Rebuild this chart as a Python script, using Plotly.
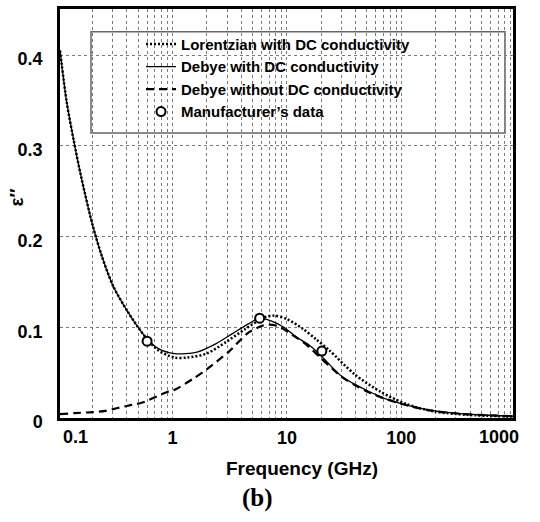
import plotly.graph_objects as go

# ---- data ----
# Lorentzian with DC conductivity (dotted)
lor_f = [0.104, 0.119, 0.137, 0.159, 0.20, 0.242, 0.304, 0.407, 0.527, 0.60, 0.752, 1.04, 1.35,
         1.99, 2.93, 4.32, 6.38, 7.75, 10.0, 13.9, 17.9, 23.3, 39.2, 65.6, 110, 197, 376, 947]
lor_e = [0.405, 0.348, 0.306, 0.266, 0.213, 0.178, 0.145, 0.117, 0.096, 0.087, 0.0745, 0.0666, 0.0666,
         0.071, 0.0836, 0.098, 0.111, 0.1128, 0.109, 0.098, 0.087, 0.075, 0.048, 0.029, 0.0155, 0.0071, 0.0035, 0.0015]

# Debye with DC conductivity (solid)
dwd_f = [0.104, 0.119, 0.137, 0.159, 0.20, 0.242, 0.304, 0.407, 0.527, 0.60, 0.752, 1.04, 1.64,
         2.41, 3.34, 4.61, 5.8, 7.27, 9.4, 12.2, 15.8, 19.8, 24.8, 30.1, 39.2, 50.7, 70, 96, 142, 210, 332, 522, 947]
dwd_e = [0.405, 0.348, 0.306, 0.266, 0.213, 0.178, 0.145, 0.117, 0.096, 0.087, 0.0764, 0.071, 0.0727,
         0.082, 0.093, 0.1037, 0.110, 0.107, 0.100, 0.089, 0.080, 0.069, 0.056, 0.046, 0.037, 0.030, 0.022,
         0.0165, 0.011, 0.0073, 0.0048, 0.0033, 0.002]

# Debye without DC conductivity (dashed)
dnd_f = [0.104, 0.14, 0.20, 0.26, 0.33, 0.44, 0.545, 0.91, 1.04, 1.53, 1.99, 3.13, 4.61, 6.18, 7.0,
         8.5, 10.7, 13.9, 16.8, 19.8, 24.8, 30.1, 39.2, 50.7, 70, 96, 142, 210, 332, 522, 947]
dnd_e = [0.0043, 0.0054, 0.0065, 0.0079, 0.011, 0.0144, 0.017, 0.029, 0.031, 0.0436, 0.0536, 0.0735,
         0.094, 0.102, 0.103, 0.101, 0.093, 0.0836, 0.0746, 0.066, 0.0546, 0.0454, 0.0363, 0.029, 0.0218,
         0.0163, 0.0108, 0.0071, 0.0046, 0.0032, 0.002]

# Manufacturer's data (circles)
man_f = [0.60, 5.78, 20.2]
man_e = [0.0847, 0.110, 0.0738]

x_tick_vals = [1, 10, 100]
x_tick_text = ["1", "10", "100"]
x_edge_labels = ["0.1", "1000"]
y_tick_vals = [0, 0.1, 0.2, 0.3, 0.4]
y_tick_text = ["0", "0.1", "0.2", "0.3", "0.4"]
x_minor_vals = [m * 10.0 ** e for e in range(-1, 3) for m in range(2, 10)]

FONT = "Liberation Sans, Arial, sans-serif"
W, H = 540, 522
L, R, T, B = 60, 27, 6, 104
PW, PH = W - L - R, H - T - B

def px(xp):
    return (xp - L) / PW

def py(yp):
    return (H - B - yp) / PH

fig = go.Figure()
fig.add_trace(go.Scatter(x=lor_f, y=lor_e, mode="lines", name="Lorentzian with DC conductivity",
                         line=dict(color="black", width=2.5, dash="2px,2px", shape="spline", smoothing=0.8)))
fig.add_trace(go.Scatter(x=dwd_f, y=dwd_e, mode="lines", name="Debye with DC conductivity",
                         line=dict(color="black", width=1.3, shape="spline", smoothing=0.8)))
fig.add_trace(go.Scatter(x=dnd_f, y=dnd_e, mode="lines", name="Debye without DC conductivity",
                         line=dict(color="black", width=2.2, dash="8px,5px", shape="spline", smoothing=0.8)))
fig.add_trace(go.Scatter(x=man_f, y=man_e, mode="markers", name="Manufacturer’s data",
                         marker=dict(symbol="circle", size=9, color="white",
                                     line=dict(color="black", width=2))))

grid = dict(gridcolor="#7a7a7a", gridwidth=1, griddash="dot")
fig.update_xaxes(type="log", range=[-0.983, 2.976], tickvals=x_tick_vals, ticktext=x_tick_text,
                 showline=True, linecolor="black", linewidth=2.5, mirror=True, ticks="",
                 tickfont=dict(family=FONT, size=18, color="black", weight="bold"),
                 ticklabelstandoff=2, zeroline=False, showgrid=True, **grid,
                 minor=dict(tickvals=x_minor_vals, showgrid=True, ticks="", **grid))
fig.update_yaxes(range=[0, 0.4507], tickvals=y_tick_vals, ticktext=y_tick_text,
                 showline=True, linecolor="black", linewidth=2.5, mirror=True, ticks="",
                 tickfont=dict(family=FONT, size=18, color="black", weight="bold"),
                 ticklabelstandoff=11, ticklabelshift=4, zeroline=False, showgrid=True, **grid)

# legend frame
fig.add_shape(type="rect", xref="paper", yref="paper", x0=px(91), x1=px(505), y0=py(131), y1=py(29),
              line=dict(color="#666666", width=1.5), fillcolor="white", layer="between")

ann = []
ann.append(dict(text=x_edge_labels[0], xref="paper", yref="paper", x=px(61), y=py(437),
                xanchor="left", yanchor="middle", showarrow=False,
                font=dict(family=FONT, size=18, color="black", weight="bold")))
ann.append(dict(text=x_edge_labels[1], xref="paper", yref="paper", x=px(521), y=py(437),
                xanchor="right", yanchor="middle", showarrow=False,
                font=dict(family=FONT, size=18, color="black", weight="bold")))
ann.append(dict(text="Frequency (GHz)", xref="paper", yref="paper", x=px(302), y=py(469),
                xanchor="center", yanchor="middle", showarrow=False,
                font=dict(family=FONT, size=19, color="black", weight="bold")))
ann.append(dict(text="(b)", xref="paper", yref="paper", x=px(257), y=py(499),
                xanchor="center", yanchor="middle", showarrow=False,
                font=dict(family="Liberation Serif, Times New Roman, serif", size=25, color="black", weight="bold")))
ann.append(dict(text="ε″", xref="paper", yref="paper", x=px(17), y=py(196),
                xanchor="center", yanchor="middle", showarrow=False, textangle=-90,
                font=dict(family=FONT, size=19, color="black", weight="bold")))

fig.update_layout(
    width=W, height=H, margin=dict(l=L, r=R, t=T, b=B, pad=0),
    paper_bgcolor="white", plot_bgcolor="white",
    showlegend=True,
    legend=dict(x=px(141), y=py(25), xanchor="left", yanchor="top", bgcolor="rgba(0,0,0,0)",
                borderwidth=0, font=dict(family=FONT, size=15, color="black", weight="bold"),
                tracegroupgap=0, itemwidth=30),
    annotations=ann,
)

fig.write_html("out.html", config={"displayModeBar": False},
               post_script="document.body.style.margin='0px';document.body.style.padding='0px';"
                           "document.body.style.overflow='hidden';")
